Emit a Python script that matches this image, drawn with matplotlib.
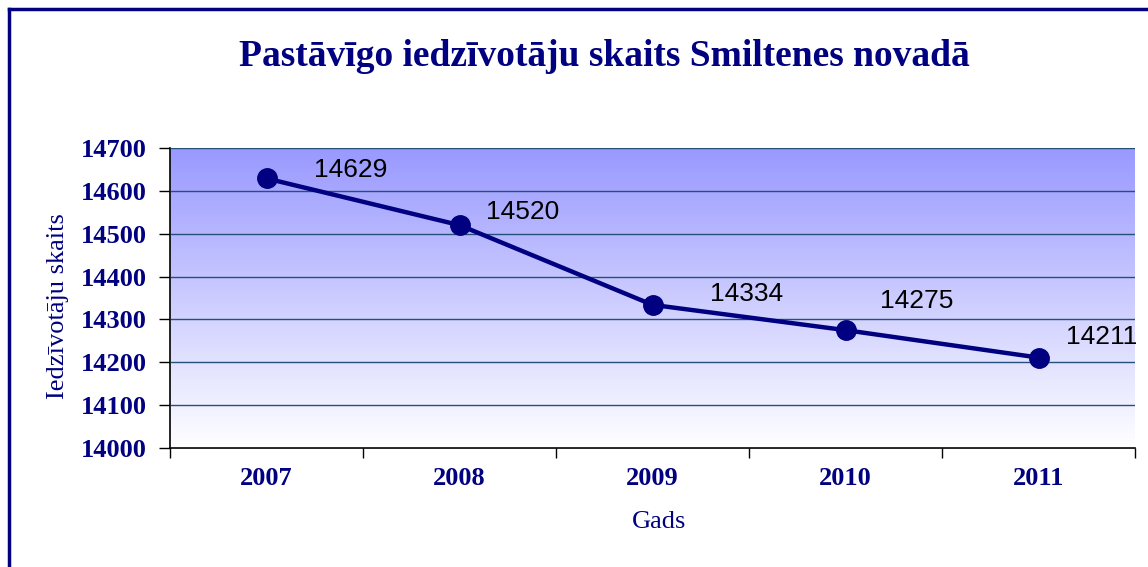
import numpy as np
import matplotlib
matplotlib.use("Agg")
import matplotlib.pyplot as plt
from matplotlib.lines import Line2D
from matplotlib.colors import LinearSegmentedColormap

# data
years = ["2007", "2008", "2009", "2010", "2011"]
residents = [14629, 14520, 14334, 14275, 14211]

# where each value label sits relative to its point (pixels right, up)
label_dx = [48, 27, 58, 34, 27]
label_dy = [8, 13, 11, 29, 21]

NAVY = "#000080"

fig = plt.figure(figsize=(11.48, 5.67), dpi=100)
ax = fig.add_axes([170 / 1148, 1 - 448 / 567, (1135 - 170) / 1148, (448 - 148) / 567])

x = np.arange(len(years))
ax.set_xlim(-0.5, len(years) - 0.5)
ax.set_ylim(14000, 14700)

# gradient background, blue at top fading to white
grad = np.linspace(0, 1, 256).reshape(-1, 1)
cmap = LinearSegmentedColormap.from_list("bg", ["#FFFFFF", "#9999FF"])
ax.imshow(grad, aspect="auto", cmap=cmap, origin="lower",
          extent=[-0.5, len(years) - 0.5, 14000, 14700], zorder=0)

ax.yaxis.grid(True, color="#24507A", linewidth=1.0, zorder=1)
ax.set_axisbelow(False)

ax.plot(x, residents, color=NAVY, linewidth=3.2, marker="o", markersize=14,
        zorder=3)

for xi, v, dx, dy in zip(x, residents, label_dx, label_dy):
    ax.annotate(str(v), (xi, v), xytext=(dx, dy), textcoords="offset pixels",
                ha="left", va="center", fontsize=19, family="Liberation Sans",
                color="black", zorder=4, annotation_clip=False)

# ticks: labels at category centres, tick marks between categories
ax.set_xticks(x)
ax.set_xticklabels(years)
ax.set_xticks(np.arange(-0.5, len(years)), minor=True)
ax.tick_params(axis="x", which="major", length=0, pad=14)
ax.tick_params(axis="x", which="minor", length=7, width=1, direction="out")
ax.set_yticks(np.arange(14000, 14701, 100))
ax.tick_params(axis="y", length=8, width=1, direction="out", pad=9)

for lab in ax.get_xticklabels() + ax.get_yticklabels():
    lab.set_family("Liberation Serif")
    lab.set_fontweight("bold")
    lab.set_fontsize(19)
    lab.set_color(NAVY)

for side in ("top", "right"):
    ax.spines[side].set_visible(False)
for side in ("left", "bottom"):
    ax.spines[side].set_color("black")
    ax.spines[side].set_linewidth(1.2)

ax.set_xlabel("Gads", family="Liberation Serif", fontsize=19, color=NAVY)
ax.xaxis.set_label_coords((659 - 170) / 965, -(522 - 448) / 300)
ax.xaxis.label.set_va("center")
ax.set_ylabel("Iedzīvotāju skaits", family="Liberation Serif", fontsize=19,
              color=NAVY)
ax.yaxis.set_label_coords(-(170 - 58) / 965, (448 - 306) / 300)
ax.yaxis.label.set_va("center")

fig.text(604 / 1148, 1 - 57 / 567, "Pastāvīgo iedzīvotāju skaits Smiltenes novadā",
         ha="center", va="center", family="Liberation Serif", fontweight="bold",
         fontsize=27, color=NAVY)

# outer frame of the chart (left and top edges are visible)
fx = 9 / 1148
fy = 1 - 9 / 567
fig.add_artist(Line2D([fx, fx], [0, fy], transform=fig.transFigure,
                      color=NAVY, linewidth=2.5))
fig.add_artist(Line2D([fx, 1], [fy, fy], transform=fig.transFigure,
                      color=NAVY, linewidth=2.5))

fig.savefig("out.png", dpi=100)
